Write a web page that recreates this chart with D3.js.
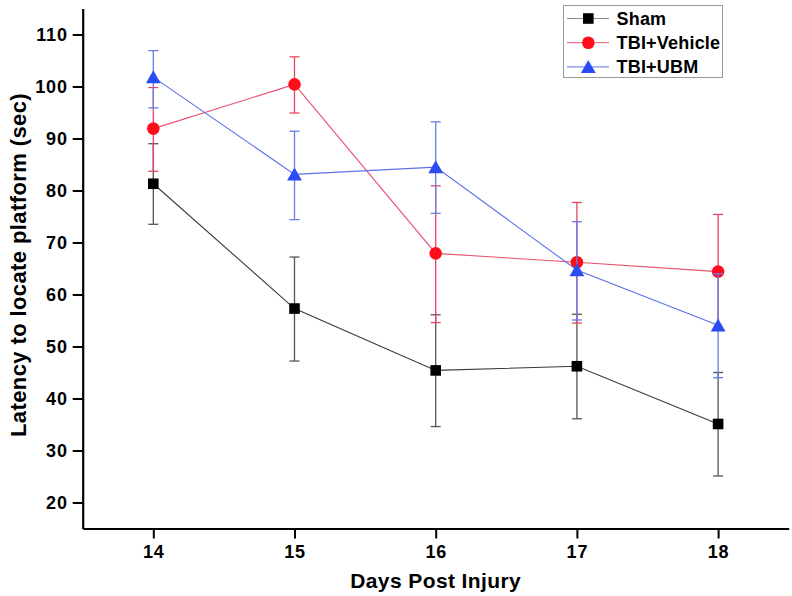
<!DOCTYPE html>
<html><head><meta charset="utf-8">
<script src="https://cdn.jsdelivr.net/npm/d3@7"></script>
<style>body{margin:0;background:#fff} text{font-family:"Liberation Sans",Arial,sans-serif;font-weight:bold}</style>
</head><body>
<svg id="c" width="792" height="596"></svg>
<script>
const days = [14, 15, 16, 17, 18];
const seriesNames = ["Sham", "TBI+Vehicle", "TBI+UBM"];
const shamMean  = [81.3, 57.3, 45.4, 46.2, 35.1];
const shamUpper = [89.0, 67.2, 56.1, 56.2, 45.0];
const shamLower = [73.5, 47.2, 34.6, 36.1, 25.1];
const vehMean   = [91.9, 100.4, 67.9, 66.2, 64.4];
const vehUpper  = [99.8, 105.7, 80.9, 77.7, 75.4];
const vehLower  = [83.7, 94.9, 54.6, 54.5, 53.4];
const ubmMean   = [101.8, 83.1, 84.5, 64.7, 54.1];
const ubmUpper  = [106.9, 91.4, 93.2, 74.0, 64.0];
const ubmLower  = [95.9, 74.4, 75.6, 55.1, 44.0];
const yTickLabels = [20, 30, 40, 50, 60, 70, 80, 90, 100, 110];
const xTickLabels = [14, 15, 16, 17, 18];
const xTitle = "Days Post Injury";
const yTitle = "Latency to locate platform (sec)";

const svg = d3.select("#c");
const x = d3.scaleLinear().domain([13.5, 18.5]).range([82.7, 788.7]);
const y = d3.scaleLinear().domain([15, 115]).range([528.5, 8.5]);

const styles = [
  {line: "#3a3a3a", err: "#555555", fill: "#000000", shape: "square"},
  {line: "#e8506c", err: "#e64660", fill: "#ff0d1a", shape: "circle"},
  {line: "#5c70e6", err: "#6a7ce8", fill: "#2a4cf2", shape: "triangle"}
];
const series = [
  {name: seriesNames[0], mean: shamMean, up: shamUpper, lo: shamLower},
  {name: seriesNames[1], mean: vehMean, up: vehUpper, lo: vehLower},
  {name: seriesNames[2], mean: ubmMean, up: ubmUpper, lo: ubmLower}
];

function marker(g, shape, cx, cy, fill) {
  if (shape === "square") {
    g.append("rect").attr("x", cx - 5.3).attr("y", cy - 5.3).attr("width", 10.6).attr("height", 10.6).attr("fill", fill);
  } else if (shape === "circle") {
    g.append("circle").attr("cx", cx).attr("cy", cy).attr("r", 6.3).attr("fill", fill);
  } else {
    g.append("path").attr("d", `M${cx},${cy-6.8}L${cx+7.4},${cy+6.2}L${cx-7.4},${cy+6.2}Z`).attr("fill", fill);
  }
}

// axes
const yMajor = d3.axisLeft(y).tickValues(yTickLabels).tickSize(10).tickPadding(5).tickSizeOuter(0);
const yMinor = d3.axisLeft(y).tickValues(d3.range(15, 116, 10)).tickSize(5).tickFormat("").tickSizeOuter(0);
const xMajor = d3.axisBottom(x).tickValues(xTickLabels).tickSize(10).tickPadding(7).tickSizeOuter(0).tickFormat(d3.format("d"));
const xMinor = d3.axisBottom(x).tickValues(d3.range(13.5, 18.6, 1)).tickSize(5).tickFormat("").tickSizeOuter(0);

const gy = svg.append("g").attr("transform", `translate(${x(13.5)},0)`);
gy.call(yMinor); gy.call(yMajor);
const gx = svg.append("g").attr("transform", `translate(0,${y(15)})`);
gx.call(xMinor); gx.call(xMajor);
svg.selectAll(".domain").attr("stroke", "#000").attr("stroke-width", 2.2);
svg.selectAll(".tick line").attr("stroke", "#000").attr("stroke-width", 2);
svg.selectAll(".tick text").attr("fill", "#000").style("font-size", "18px").style("letter-spacing", "0.8px").style("font-weight", "bold").style("font-family", "Liberation Sans, Arial, sans-serif");

// titles
svg.append("text").attr("x", x(16)).attr("y", 588).attr("text-anchor", "middle").style("font-size", "21px").style("letter-spacing", "0.4px").attr("fill", "#000").text(xTitle);
svg.append("text").attr("transform", `translate(26,265) rotate(-90)`).attr("text-anchor", "middle").style("font-size", "22px").style("letter-spacing", "0.4px").attr("fill", "#000").text(yTitle);

// data
const line = d3.line().x((d) => x(d[0])).y((d) => y(d[1]));
series.forEach((s, i) => {
  const st = styles[i];
  const g = svg.append("g");
  const pts = days.map((d, j) => [d, s.mean[j]]);
  g.append("path").attr("d", line(pts)).attr("fill", "none").attr("stroke", st.line).attr("stroke-width", 1.1);
  days.forEach((d, j) => {
    const cx = x(d);
    g.append("line").attr("x1", cx).attr("x2", cx).attr("y1", y(s.up[j])).attr("y2", y(s.lo[j])).attr("stroke", st.err).attr("stroke-width", 1.3);
    [s.up[j], s.lo[j]].forEach((v) => {
      g.append("line").attr("x1", cx - 5).attr("x2", cx + 5).attr("y1", y(v)).attr("y2", y(v)).attr("stroke", st.err).attr("stroke-width", 1.3);
    });
  });
  days.forEach((d, j) => marker(g, st.shape, x(d), y(s.mean[j]), st.fill));
});

// legend
const lg = svg.append("g");
lg.append("rect").attr("x", 563.5).attr("y", 5.5).attr("width", 159).attr("height", 72).attr("fill", "#fff").attr("stroke", "#9a9a9a").attr("stroke-width", 1);
series.forEach((s, i) => {
  const st = styles[i];
  const ly = 18.5 + i * 24.2;
  lg.append("line").attr("x1", 567).attr("x2", 609).attr("y1", ly).attr("y2", ly).attr("stroke", i === 0 ? "#8a8a8a" : st.line).attr("stroke-width", 1);
  marker(lg, st.shape, 588.3, ly, st.fill);
  lg.append("text").attr("x", 616.5).attr("y", ly + 6.3).style("font-size", "18px").style("letter-spacing", "0.2px").attr("fill", "#000").text(s.name);
});
</script>
</body></html>
